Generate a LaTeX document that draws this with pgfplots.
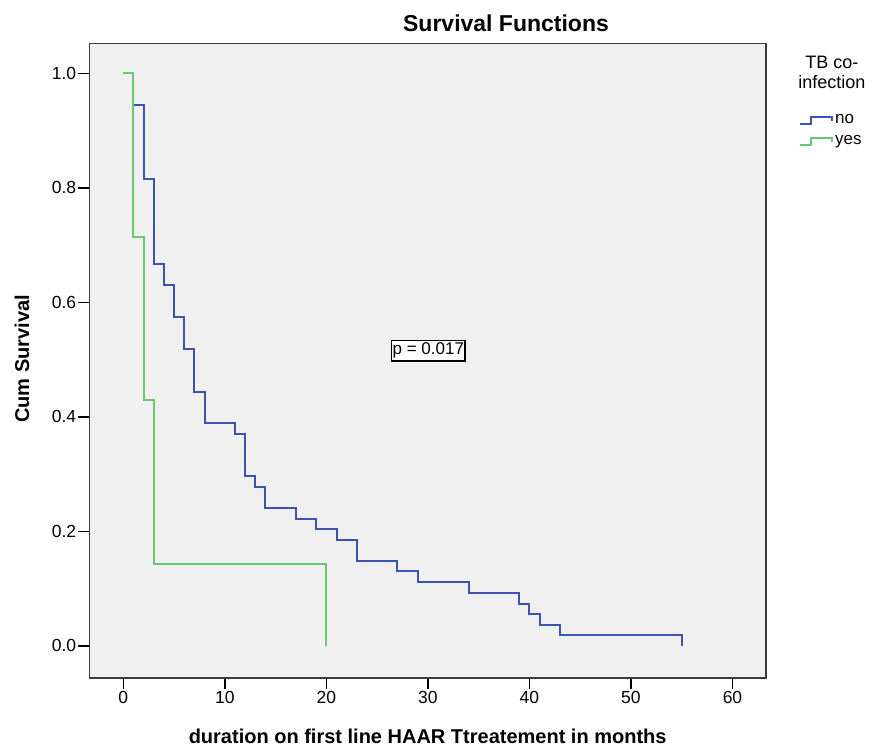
\documentclass[border=0pt]{standalone}
\usepackage{fontspec}
\setmainfont{Liberation Sans}
\usepackage{pgfplots}
\pgfplotsset{compat=1.18}
\definecolor{kmblue}{RGB}{62,82,178}
\definecolor{kmgreen}{RGB}{104,200,110}
\definecolor{panel}{RGB}{240,240,240}
\definecolor{framec}{RGB}{60,60,60}

\begin{document}
\begin{tikzpicture}
\begin{axis}[
  scale only axis,
  width=676.7pt, height=634.5pt,
  xmin=-3.35, xmax=63.3, ymin=-0.056, ymax=1.052,
  axis background/.style={fill=panel},
  axis line style={draw=framec, line width=1.5pt},
  xtick={0,10,...,60}, ytick={0,0.2,0.4,0.6,0.8,1.0},
  xtick pos=bottom, ytick pos=left,
  tick align=outside, major tick length=11pt,
  tick style={black, line width=1.5pt},
  /pgf/number format/assume math mode=true,
  yticklabel style={/pgf/number format/fixed, /pgf/number format/fixed zerofill, /pgf/number format/precision=1, inner sep=2pt},
  ticklabel style={font=\fontsize{17.5}{20}\selectfont},
  xticklabel style={inner sep=2pt},
  xlabel={duration on first line HAAR Ttreatement in months},
  xlabel style={font=\bfseries\fontsize{20}{24}\selectfont, at={(axis description cs:0.5,-0.104)}, anchor=base},
  ylabel={Cum Survival},
  ylabel style={font=\bfseries\fontsize{20}{24}\selectfont, at={(axis description cs:-0.0995,0.503)}, anchor=center},
  clip=false,
  legend style={draw=none, fill=none, at={(axis description cs:1.0488,0.891)}, anchor=north west,
    font=\fontsize{17}{20}\selectfont, inner sep=0pt, row sep=6pt,
    nodes={inner xsep=2pt, inner ysep=0pt, text height=11pt, text depth=4pt}},
  legend cell align=left,
  legend image code/.code={\draw[#1] (0pt,-3.5pt) -- (11pt,-3.5pt) -- (11pt,3.5pt) -- (32pt,3.5pt) -- (32pt,-0.5pt);},
]
% no TB co-infection
\addplot[const plot, color=kmblue, line width=2pt] coordinates {
 (0,1)(1,0.944)(2,0.815)(3,0.667)(4,0.630)(5,0.574)(6,0.519)(7,0.444)(8,0.389)
 (11,0.370)(12,0.296)(13,0.278)(14,0.241)(17,0.222)(19,0.204)(21,0.185)(23,0.148)
 (27,0.130)(29,0.111)(34,0.093)(39,0.074)(40,0.056)(41,0.037)(43,0.019)(55,0)};
\addlegendentry{no}
% TB co-infection
\addplot[const plot, color=kmgreen, line width=2pt] coordinates {
 (0,1)(1,0.714)(2,0.429)(3,0.143)(20,0)};
\addlegendentry{yes}

\draw[framec, line width=1.5pt] (rel axis cs:0,0) rectangle (rel axis cs:1,1);
\node[draw=black, fill=white, line width=1.4pt, inner xsep=1pt, inner ysep=2.5pt,
  font=\fontsize{17}{20}\selectfont] at (axis cs:30.04,0.5156) {p = 0.017};
\node[font=\bfseries\fontsize{23}{27}\selectfont, anchor=base] at (axis description cs:0.6158,1.0197) {Survival Functions};
\node[font=\fontsize{18}{20}\selectfont, align=center, anchor=north] at (axis description cs:1.0975,0.985) {TB co-\\infection};
\path (axis description cs:-0.132,-0.1087) rectangle (axis description cs:1.167,1.0686);
\end{axis}
\end{tikzpicture}
\end{document}
